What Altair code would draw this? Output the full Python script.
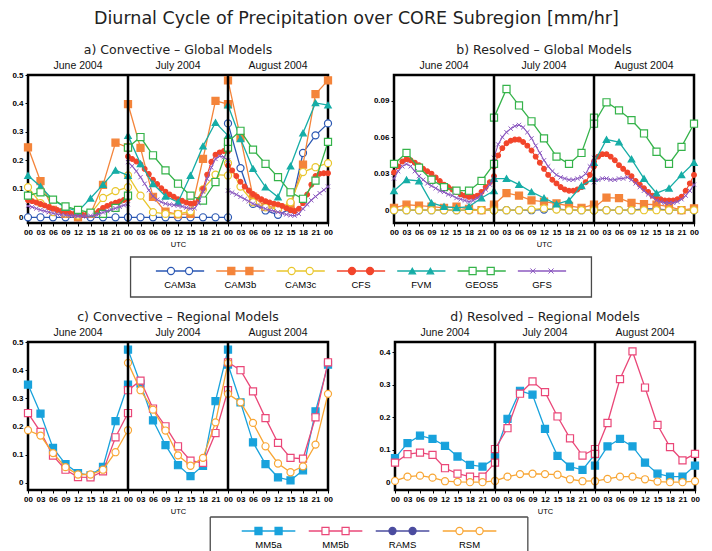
import altair as alt
import pandas as pd

MONTHS = ["June 2004", "July 2004", "August 2004"]
HOURS_3H = [0, 3, 6, 9, 12, 15, 18, 21, 24]
HOURS_1H = list(range(25))
MONTH_EDGES = [24, 48]
MONTH_CENTERS = [12, 36, 60]
X_TICKS = list(range(0, 73, 3))

# ---- a) Convective, global models [mm/hr]; one list per month (Jun, Jul, Aug)
a_cam3a = [[0, 0, 0, 0, 0, 0, 0, 0, 0],
           [0, 0, 0, 0, 0, 0, 0, 0, 0],
           [0.330, 0.173, 0.047, 0.024, 0.009, 0.030, 0.226, 0.288, 0.330]]
a_cam3b = [[0.246, 0.127, 0.026, 0.012, 0.000, 0.012, 0.114, 0.262, 0.246],
           [0.398, 0.244, 0.072, 0.020, 0.010, 0.012, 0.205, 0.409, 0.398],
           [0.481, 0.280, 0.073, 0.038, 0.035, 0.041, 0.185, 0.433, 0.481]]
a_cam3c = [[0.106, 0.050, 0.018, 0.014, 0.006, 0.012, 0.068, 0.092, 0.106],
           [0.147, 0.076, 0.018, 0.012, 0.012, 0.021, 0.098, 0.150, 0.147],
           [0.190, 0.108, 0.053, 0.035, 0.030, 0.053, 0.159, 0.176, 0.190]]
a_cfs = [[0.060, 0.057, 0.052, 0.047, 0.042, 0.036, 0.030, 0.026, 0.022, 0.018, 0.015, 0.012, 0.010,
          0.009, 0.009, 0.010, 0.014, 0.022, 0.033, 0.040, 0.046, 0.051, 0.056, 0.061, 0.065],
         [0.214, 0.205, 0.196, 0.186, 0.170, 0.152, 0.132, 0.117, 0.102, 0.090, 0.080, 0.072, 0.064,
          0.058, 0.052, 0.048, 0.050, 0.062, 0.100, 0.150, 0.195, 0.220, 0.228, 0.233, 0.232],
         [0.182, 0.165, 0.145, 0.125, 0.108, 0.094, 0.082, 0.072, 0.064, 0.057, 0.052, 0.048, 0.045,
          0.040, 0.032, 0.025, 0.022, 0.030, 0.050, 0.080, 0.115, 0.145, 0.153, 0.155, 0.155]]
a_fvm = [[0.147, 0.108, 0.061, 0.035, 0.021, 0.067, 0.115, 0.165, 0.147],
         [0.287, 0.188, 0.118, 0.074, 0.053, 0.147, 0.250, 0.333, 0.287],
         [0.394, 0.276, 0.171, 0.106, 0.071, 0.180, 0.296, 0.402, 0.394]]
a_geos5 = [[0.076, 0.088, 0.062, 0.038, 0.026, 0.016, 0.012, 0.033, 0.076],
           [0.245, 0.282, 0.218, 0.165, 0.118, 0.076, 0.059, 0.124, 0.245],
           [0.265, 0.304, 0.238, 0.188, 0.141, 0.088, 0.065, 0.129, 0.265]]
a_gfs = [[0.040, 0.036, 0.031, 0.026, 0.022, 0.018, 0.014, 0.011, 0.009, 0.007, 0.006, 0.005, 0.004,
          0.004, 0.004, 0.005, 0.007, 0.011, 0.017, 0.022, 0.027, 0.032, 0.037, 0.042, 0.046],
         [0.194, 0.180, 0.162, 0.141, 0.118, 0.095, 0.074, 0.062, 0.054, 0.048, 0.045, 0.043, 0.041,
          0.038, 0.034, 0.030, 0.032, 0.050, 0.090, 0.135, 0.175, 0.205, 0.215, 0.212, 0.200],
         [0.094, 0.087, 0.080, 0.072, 0.064, 0.056, 0.048, 0.042, 0.036, 0.030, 0.026, 0.022, 0.018,
          0.014, 0.010, 0.007, 0.006, 0.012, 0.030, 0.045, 0.060, 0.073, 0.085, 0.096, 0.108]]

# ---- b) Resolved, global models [mm/hr]
b_cam3a = [[0, 0, 0, 0, 0, 0, 0, 0, 0],
           [0, 0, 0, 0, 0.0005, 0.001, 0, 0, 0],
           [0, 0, 0, 0, 0.001, 0.001, 0, 0, 0]]
b_cam3b = [[0.002, 0.0045, 0.0038, 0.003, 0.002, 0.003, 0.001, 0.000, 0.002],
           [0.0045, 0.014, 0.012, 0.008, 0.007, 0.0055, 0.0035, 0.002, 0.0045],
           [0.002, 0.0104, 0.010, 0.006, 0.005, 0.0045, 0.003, 0.000, 0.0015]]
b_cam3c = [[0, 0, 0, 0, 0, 0, 0, 0, 0],
           [0, 0, 0, 0.0005, 0.0015, 0.0005, 0, 0, 0],
           [0, 0, 0, 0, 0, 0, 0, 0, 0]]
b_cfs = [[0.031, 0.036, 0.040, 0.042, 0.041, 0.039, 0.037, 0.034, 0.032, 0.030, 0.027, 0.024, 0.021,
          0.019, 0.017, 0.015, 0.013, 0.012, 0.011, 0.011, 0.012, 0.015, 0.019, 0.023, 0.028],
         [0.036, 0.045, 0.051, 0.055, 0.057, 0.058, 0.058, 0.056, 0.053, 0.049, 0.044, 0.039, 0.034,
          0.029, 0.025, 0.022, 0.019, 0.017, 0.016, 0.016, 0.017, 0.019, 0.023, 0.029, 0.036],
         [0.040, 0.044, 0.046, 0.046, 0.044, 0.041, 0.037, 0.034, 0.031, 0.028, 0.024, 0.021, 0.018,
          0.015, 0.012, 0.010, 0.009, 0.008, 0.008, 0.008, 0.009, 0.011, 0.016, 0.022, 0.029]]
b_fvm = [[0.016, 0.025, 0.024, 0.006, 0.003, 0.002, 0.003, 0.010, 0.016],
         [0.026, 0.026, 0.021, 0.015, 0.010, 0.005, 0.008, 0.020, 0.026],
         [0.039, 0.058, 0.056, 0.042, 0.026, 0.014, 0.018, 0.029, 0.039]]
b_geos5 = [[0.038, 0.047, 0.035, 0.025, 0.019, 0.016, 0.016, 0.024, 0.038],
           [0.076, 0.0995, 0.086, 0.073, 0.059, 0.044, 0.038, 0.047, 0.076],
           [0.071, 0.0886, 0.082, 0.074, 0.063, 0.048, 0.038, 0.052, 0.071]]
b_gfs = [[0.026, 0.032, 0.036, 0.038, 0.036, 0.032, 0.028, 0.025, 0.022, 0.020, 0.018, 0.016, 0.015,
          0.013, 0.012, 0.010, 0.009, 0.008, 0.007, 0.008, 0.010, 0.013, 0.017, 0.021, 0.026],
         [0.043, 0.054, 0.060, 0.064, 0.067, 0.069, 0.070, 0.068, 0.064, 0.059, 0.053, 0.047, 0.041,
          0.036, 0.032, 0.029, 0.027, 0.026, 0.025, 0.025, 0.026, 0.027, 0.030, 0.036, 0.043],
         [0.023, 0.025, 0.026, 0.026, 0.025, 0.025, 0.026, 0.026, 0.027, 0.025, 0.022, 0.019, 0.016,
          0.013, 0.011, 0.008, 0.007, 0.006, 0.006, 0.006, 0.007, 0.009, 0.012, 0.016, 0.021]]

# ---- c) Convective, regional models [mm/hr]
c_mm5a = [[0.349, 0.246, 0.124, 0.067, 0.035, 0.027, 0.057, 0.219, 0.349],
          [0.473, 0.352, 0.222, 0.134, 0.063, 0.024, 0.061, 0.290, 0.473],
          [0.420, 0.286, 0.144, 0.067, 0.020, 0.009, 0.045, 0.254, 0.420]]
c_mm5b = [[0.248, 0.181, 0.097, 0.047, 0.021, 0.020, 0.041, 0.162, 0.248],
          [0.329, 0.363, 0.264, 0.201, 0.130, 0.079, 0.071, 0.177, 0.329],
          [0.428, 0.400, 0.325, 0.230, 0.142, 0.089, 0.086, 0.233, 0.428]]
c_rsm = [[0.187, 0.168, 0.106, 0.056, 0.030, 0.030, 0.047, 0.109, 0.187],
         [0.426, 0.329, 0.260, 0.186, 0.098, 0.061, 0.089, 0.215, 0.426],
         [0.316, 0.286, 0.213, 0.130, 0.069, 0.038, 0.059, 0.136, 0.316]]

# ---- d) Resolved, regional models [mm/hr]
d_mm5a = [[0.074, 0.120, 0.143, 0.133, 0.112, 0.079, 0.053, 0.048, 0.074],
          [0.086, 0.195, 0.281, 0.269, 0.164, 0.081, 0.048, 0.038, 0.086],
          [0.051, 0.110, 0.133, 0.110, 0.060, 0.026, 0.017, 0.017, 0.051]]
d_mm5b = [[0.060, 0.086, 0.091, 0.084, 0.043, 0.026, 0.017, 0.017, 0.060],
          [0.102, 0.166, 0.272, 0.310, 0.277, 0.202, 0.135, 0.082, 0.102],
          [0.087, 0.182, 0.317, 0.402, 0.291, 0.176, 0.108, 0.067, 0.087]]
d_rsm = [[0.004, 0.017, 0.020, 0.014, 0.003, 0.001, 0.000, 0.000, 0.004],
         [0.004, 0.017, 0.025, 0.026, 0.025, 0.023, 0.009, 0.003, 0.004],
         [0.003, 0.010, 0.017, 0.017, 0.009, 0.002, 0.000, 0.000, 0.003]]

GLOBAL_MODELS = ["CAM3a", "CAM3b", "CAM3c", "CFS", "FVM", "GEOS5", "GFS"]
REGIONAL_MODELS = ["MM5a", "MM5b", "RAMS", "RSM"]

# marker drawn as an "x" for GFS
X_PATH = "M-1,-1L1,1M-1,1L1,-1"

# name -> (colour, marker shape, filled marker)
STYLE = {
    "CAM3a": ("#2a57b3", "circle", False),
    "CAM3b": ("#f4843a", "square", True),
    "CAM3c": ("#e9c62c", "circle", False),
    "CFS": ("#f2452b", "circle", True),
    "FVM": ("#16ada6", "triangle-up", True),
    "GEOS5": ("#35b34a", "square", False),
    "GFS": ("#8c5ac0", X_PATH, False),
    "MM5a": ("#18a2dc", "square", True),
    "MM5b": ("#ea4778", "square", False),
    "RAMS": ("#4b4c9f", "circle", True),
    "RSM": ("#f8a634", "circle", False),
}

TITLE_FONT = "DejaVu Sans"
TEXT_FONT = "Liberation Sans"
TICK_FONT = "Liberation Sans Narrow, Liberation Sans"

PLOT_W, PLOT_H = 300, 148


def marker_props(name, small):
    color, shape, filled = STYLE[name]
    if shape == X_PATH:
        return dict(shape=shape, filled=False, color=color, strokeWidth=1.0,
                    size=18 if small else 26, opacity=1)
    size = 50
    if shape == "triangle-up":
        size = 42
    if small:
        size = 22
    return dict(shape=shape, filled=True, fill=color if filled else "white",
                stroke=color, strokeWidth=1.2, size=size, opacity=1)


def panel(title, series, ydomain, yticks):
    rows = []
    for name, months in series:
        for m, vals in enumerate(months):
            hours = HOURS_1H if len(vals) == len(HOURS_1H) else HOURS_3H
            for h, v in zip(hours, vals):
                rows.append({"series": name, "month": m, "t": 24 * m + h, "value": v})
    df = pd.DataFrame(rows)

    xenc = alt.X("t:Q", scale=alt.Scale(domain=[0, 72], nice=False, zero=False),
                 axis=alt.Axis(values=X_TICKS, title="UTC", labelOverlap=False, labelFlush=False,
                               labelExpr="(datum.value % 24 < 10 ? '0' : '') + (datum.value % 24)"))
    yenc = alt.Y("value:Q", scale=alt.Scale(domain=ydomain, nice=False, zero=False),
                 axis=alt.Axis(values=yticks, format="~g", title=None, labelOverlap=False,
                               labelFlush=False))

    base = alt.Chart(df)
    layers = []
    for name, months in series:
        color = STYLE[name][0]
        hourly = len(months[0]) == len(HOURS_1H)
        sub = base.transform_filter(alt.datum.series == name)
        layers.append(sub.mark_line(color=color, strokeWidth=1.1 if hourly else 1.3)
                      .encode(x=xenc, y=yenc, detail="month:N"))
        layers.append(sub.mark_point(**marker_props(name, hourly)).encode(x=xenc, y=yenc))

    # thick separators between the months, and the month headers
    edges = alt.Chart(pd.DataFrame({"t": MONTH_EDGES})).mark_rule(
        color="black", strokeWidth=2.5).encode(x=xenc)
    heads = alt.Chart(pd.DataFrame({"t": MONTH_CENTERS, "label": MONTHS})).mark_text(
        font=TEXT_FONT, fontSize=10.5, color="#111111", baseline="middle").encode(
        x=xenc, y=alt.value(-9), text="label:N")
    layers += [edges, heads]

    return alt.layer(*layers).properties(
        width=PLOT_W, height=PLOT_H,
        title=alt.TitleParams(title, font=TITLE_FONT, fontSize=12.5, fontWeight="normal",
                              color="#222222", anchor="middle", frame="group", offset=5),
        view=alt.ViewBackground(stroke="black", strokeWidth=2.5),
    )


def legend_row(names, domain, box, height, closed):
    items = pd.DataFrame({"name": names, "i": list(range(len(names)))})
    sc = alt.Scale(domain=domain, nice=False, zero=False)
    frame = alt.Chart(pd.DataFrame({"x0": [box[0]], "x1": [box[1]]}))
    frame_style = dict(color="#4a4a4a", strokeWidth=1.3)
    if closed:
        frames = [frame.mark_rect(fillOpacity=0, stroke="#4a4a4a", strokeWidth=1.3).encode(
            x=alt.X("x0:Q", scale=sc, axis=None), x2="x1:Q",
            y=alt.value(0), y2=alt.value(height))]
    else:
        frames = [
            frame.mark_rule(**frame_style).encode(x=alt.X("x0:Q", scale=sc, axis=None), x2="x1:Q",
                                                  y=alt.value(0)),
            frame.mark_rule(**frame_style).encode(x=alt.X("x0:Q", scale=sc, axis=None),
                                                  y=alt.value(0), y2=alt.value(height)),
            frame.mark_rule(**frame_style).encode(x=alt.X("x1:Q", scale=sc, axis=None),
                                                  y=alt.value(0), y2=alt.value(height)),
        ]
    layers = list(frames)
    for name in names:
        color = STYLE[name][0]
        sub = alt.Chart(items).transform_filter(alt.datum.name == name)
        layers.append(sub.transform_calculate(a="datum.i - 0.4", b="datum.i + 0.4")
                      .mark_rule(color=color, strokeWidth=1.3)
                      .encode(x=alt.X("a:Q", scale=sc, axis=None), x2="b:Q", y=alt.value(14)))
        for off in (-0.15, 0.15):
            layers.append(sub.transform_calculate(p=f"datum.i + {off}")
                          .mark_point(**marker_props(name, False))
                          .encode(x=alt.X("p:Q", scale=sc, axis=None), y=alt.value(14)))
        layers.append(sub.mark_text(font=TEXT_FONT, fontSize=9.5, color="black", baseline="middle")
                      .encode(x=alt.X("i:Q", scale=sc, axis=None), y=alt.value(28),
                              text="name:N"))
    return alt.layer(*layers).properties(width=666, height=height)


pa = panel("a) Convective \u2013 Global Models",
           list(zip(GLOBAL_MODELS, [a_cam3a, a_cam3b, a_cam3c, a_cfs, a_fvm, a_geos5, a_gfs])),
           [-0.02, 0.5], [0, 0.1, 0.2, 0.3, 0.4, 0.5])
pb = panel("b) Resolved \u2013 Global Models",
           list(zip(GLOBAL_MODELS, [b_cam3a, b_cam3b, b_cam3c, b_cfs, b_fvm, b_geos5, b_gfs])),
           [-0.0105, 0.111], [0, 0.03, 0.06, 0.09])
pc = panel("c) Convective \u2013 Regional Models",
           list(zip(["MM5a", "MM5b", "RSM"], [c_mm5a, c_mm5b, c_rsm])),
           [-0.025, 0.5], [0, 0.1, 0.2, 0.3, 0.4, 0.5])
pd_ = panel("d) Resolved \u2013 Regional Models",
            list(zip(["MM5a", "MM5b", "RSM"], [d_mm5a, d_mm5b, d_rsm])),
            [-0.024, 0.431], [0, 0.1, 0.2, 0.3, 0.4])

leg1 = legend_row(GLOBAL_MODELS, [-2.52, 8.52], [-0.82, 6.82], 40, True)
leg2 = legend_row(REGIONAL_MODELS, [-3.59, 6.35], [-0.87, 3.87], 36, False)

top_block = alt.vconcat(alt.hconcat(pa, pb, spacing=66, bounds="flush"), leg1, spacing=7)
bottom_block = alt.vconcat(alt.hconcat(pc, pd_, spacing=67, bounds="flush"), leg2, spacing=0)

chart = alt.vconcat(
    top_block, bottom_block, spacing=11,
).properties(
    title=alt.TitleParams("Diurnal Cycle of Precipitation over CORE Subregion [mm/hr]",
                          font=TITLE_FONT, fontSize=17.5, fontWeight="normal", color="#222222",
                          anchor="middle", offset=15),
    padding={"left": 10, "top": 9, "right": 5, "bottom": 0},
).configure_view(
    strokeWidth=0,
).configure_axis(
    labelFont=TICK_FONT, labelFontSize=8, labelFontWeight="bold", labelColor="black",
    labelPadding=2, tickColor="black", tickSize=3, domain=False, grid=False,
    titleFont=TEXT_FONT, titleFontSize=7.5, titleFontWeight="normal", titleColor="black",
    titlePadding=4,
)

chart.save("out.html", embed_options={"renderer": "svg", "actions": False})
